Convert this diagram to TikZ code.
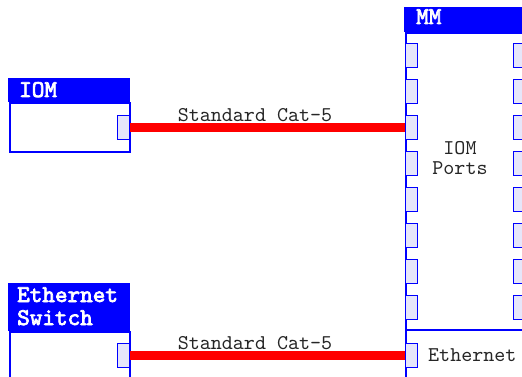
\documentclass[tikz,border=0pt]{standalone}
\usepackage{fontspec}
\setmonofont{lmmono10-regular.otf}
\newfontfamily\hdrfont{lmmono10-regular.otf}[FakeBold=3]
\definecolor{portfill}{RGB}{230,230,250}
\begin{document}
\begin{tikzpicture}[x=1pt,y=-1pt,
  boxbody/.style={draw=blue, line width=2pt, inner sep=0pt, anchor=north west},
  hdr/.style={fill=blue, draw=none, inner sep=0pt, anchor=north west},
  hdrtext/.style={text=white, font=\hdrfont\fontsize{24}{23}\selectfont, inner sep=0pt, anchor=base west},
  portbox/.style={draw=blue, fill=portfill, line width=1pt, inner sep=0pt, minimum width=12pt, minimum height=24pt, anchor=north west},
  lbl/.style={font=\ttfamily\fontsize{21}{21}\selectfont, inner sep=0pt, text=black!85},
  cable/.style={draw=red, line width=8.5pt}
]
\useasboundingbox (0,0) rectangle (522,377);
\clip (0,0) rectangle (522,377);

% IOM box
\node[hdr, minimum width=122pt, minimum height=24pt] (iomhdr) at (8,78) {};
\node[hdrtext] (iomtxt) at (19,97) {IOM};
\node[boxbody, minimum width=120pt, minimum height=49pt] (iombody) at (9,102) {};
\node[portbox] (iomport) at (117,115) {};

% Ethernet switch box
\node[hdr, minimum width=122pt, minimum height=48pt] (eshdr) at (8,283) {};
\node[hdrtext] (estxt1) at (17,302) {Ethernet};
\node[hdrtext] (estxt2) at (17,325) {Switch};
\node[boxbody, minimum width=120pt, minimum height=80pt] (esbody) at (9,331) {};
\node[portbox] (esport) at (117,343) {};

% MM box
\node[hdr, minimum width=130pt, minimum height=25pt] (mmhdr) at (404,7) {};
\node[hdrtext] (mmtxt) at (416,24) {MM};
\node[boxbody, minimum width=200pt, minimum height=400pt] (mmbody) at (405,32) {};
\coordinate (sepL) at (405,330);
\coordinate (sepR) at (530,330);
\draw[blue, line width=2pt] (sepL) -- (sepR);

\foreach \i/\y in {1/43,2/79,3/115,4/151,5/187,6/223,7/259,8/295}{
  \node[portbox] (mmL\i) at (405,\y) {};
  \node[portbox] (mmR\i) at (513,\y) {};
}
\node[portbox] (mmeth) at (405,343) {};

\node[lbl, anchor=base] (iomports1) at (460,154) {IOM};
\node[lbl, anchor=base] (iomports2) at (460,175) {Ports};
\node[lbl, anchor=base west] (ethtxt) at (428,361) {Ethernet};

% cables
\draw[cable] (iomport.east) -- node[lbl, anchor=base, yshift=6pt, xshift=-12.5pt] (cab1) {Standard Cat-5} (mmL3.west);
\draw[cable] (esport.east) -- node[lbl, anchor=base, yshift=6pt, xshift=-12.5pt] (cab2) {Standard Cat-5} (mmeth.west);
\end{tikzpicture}
\end{document}
